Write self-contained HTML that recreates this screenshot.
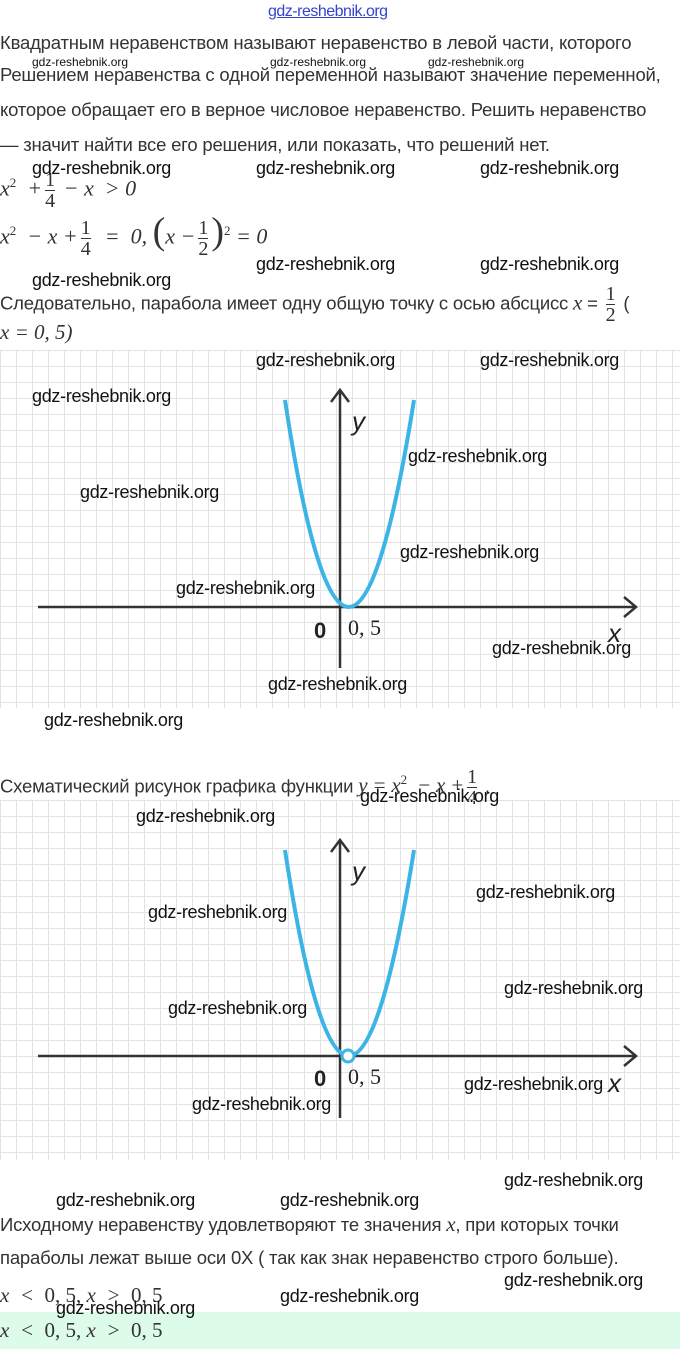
<!DOCTYPE html>
<html><head><meta charset="utf-8"><style>
body{margin:0;width:680px;height:1349px;background:#fff;position:relative;overflow:hidden;font-family:"Liberation Sans","DejaVu Sans",sans-serif;color:#333}
.t{position:absolute;left:0;font-size:18.5px;white-space:nowrap;line-height:22px;letter-spacing:-0.2px}
.m{position:absolute;font-family:"Liberation Serif",serif;font-style:italic;font-size:22px;white-space:nowrap;color:#333;line-height:26px}
.w{position:absolute;font-size:18px;color:#111;white-space:nowrap;line-height:20px;letter-spacing:-0.3px;z-index:5}
.ws{position:absolute;font-size:12px;color:#111;white-space:nowrap;line-height:12px;z-index:5}
.grid{position:absolute;left:0;width:680px;background-image:linear-gradient(#e3e3e3 1px,transparent 1px),linear-gradient(90deg,#e3e3e3 1px,transparent 1px);background-size:16px 16px}
.fr{display:inline-block;vertical-align:middle;text-align:center;font-style:normal;font-size:20px;line-height:20px;margin:0 3px}
.fr span{display:block}
.fr .n{border-bottom:1px solid #333}
</style></head><body>
<div style="position:absolute;left:268px;top:3px;font-size:16px;color:#3344cc;text-decoration:underline;letter-spacing:-0.5px">gdz-reshebnik.org</div>
<div class="t" style="top:32px">Квадратным неравенством называют неравенство в левой части, которого</div>
<div class="t" style="top:64px">Решением неравенства с одной переменной называют значение переменной,</div>
<div class="t" style="top:99px">которое обращает его в верное числовое неравенство. Решить неравенство</div>
<div class="t" style="top:134px">— значит найти все его решения, или показать, что решений нет.</div>
<div class="ws" style="left:32px;top:56px">gdz-reshebnik.org</div>
<div class="ws" style="left:270px;top:56px">gdz-reshebnik.org</div>
<div class="ws" style="left:428px;top:56px">gdz-reshebnik.org</div>

<div class="m" style="left:0;top:170px">x<sup style="font-size:13px;font-style:normal">2</sup> &nbsp;+<span class="fr"><span class="n">1</span><span>4</span></span> − x &nbsp;&gt; 0</div>
<div class="m" style="left:0;top:218px">x<sup style="font-size:13px;font-style:normal">2</sup> &nbsp;− x +<span class="fr"><span class="n">1</span><span>4</span></span> &nbsp;= &nbsp;0, <span style="font-size:38px;font-style:normal">(</span>x −<span class="fr"><span class="n">1</span><span>2</span></span><span style="font-size:38px;font-style:normal">)</span><sup style="font-size:13px;font-style:normal">2</sup> = 0</div>
<div class="t" style="top:284px">Следовательно, парабола имеет одну общую точку с осью абсцисс <span style="font-family:'Liberation Serif',serif;font-style:italic;font-size:21px">x</span> = <span class="fr" style="font-family:'Liberation Serif',serif"><span class="n">1</span><span>2</span></span> (</div>
<div class="m" style="left:0;top:319px;font-size:21px">x = 0, 5)</div>

<div class="grid" style="top:350px;height:358px"></div>
<svg style="position:absolute;left:0;top:350px" width="680" height="358">
<line x1="38" y1="257" x2="636" y2="257" stroke="#333" stroke-width="2.5"/>
<polyline points="624,247 636,257 624,267" fill="none" stroke="#333" stroke-width="2.5"/>
<line x1="340" y1="318" x2="340" y2="40" stroke="#333" stroke-width="2.5"/>
<polyline points="331,52 340,40 349,52" fill="none" stroke="#333" stroke-width="2.5"/>
<path d="M285,50 Q348,464 414,50" fill="none" stroke="#3db4e6" stroke-width="4"/>
<text x="352" y="80" font-family="Liberation Sans" font-style="italic" font-size="26" fill="#222">y</text>
<text x="608" y="292" font-family="Liberation Sans" font-style="italic" font-size="26" fill="#222">x</text>
<text x="314" y="288" font-family="Liberation Sans" font-weight="bold" font-size="22" fill="#222">0</text>
<text x="348" y="285" font-family="Liberation Serif" font-size="22" fill="#222">0, 5</text>
</svg>

<div class="t" style="top:767px">Схематический рисунок графика функции <span style="font-family:'Liberation Serif',serif;font-style:italic;font-size:21px">y = x<sup style="font-size:13px;font-style:normal">2</sup> &nbsp;− x +</span><span class="fr" style="font-family:'Liberation Serif',serif"><span class="n">1</span><span>4</span></span> .</div>

<div class="grid" style="top:800px;height:360px"></div>
<svg style="position:absolute;left:0;top:800px" width="680" height="360">
<line x1="38" y1="256" x2="636" y2="256" stroke="#333" stroke-width="2.5"/>
<polyline points="624,246 636,256 624,266" fill="none" stroke="#333" stroke-width="2.5"/>
<line x1="340" y1="318" x2="340" y2="40" stroke="#333" stroke-width="2.5"/>
<polyline points="331,52 340,40 349,52" fill="none" stroke="#333" stroke-width="2.5"/>
<path d="M285,50 Q348,462 414,50" fill="none" stroke="#3db4e6" stroke-width="4"/>
<circle cx="348" cy="256" r="6" fill="#fff" stroke="#3db4e6" stroke-width="3"/>
<text x="352" y="80" font-family="Liberation Sans" font-style="italic" font-size="26" fill="#222">y</text>
<text x="608" y="292" font-family="Liberation Sans" font-style="italic" font-size="26" fill="#222">x</text>
<text x="314" y="286" font-family="Liberation Sans" font-weight="bold" font-size="22" fill="#222">0</text>
<text x="348" y="284" font-family="Liberation Serif" font-size="22" fill="#222">0, 5</text>
</svg>

<div class="t" style="top:1213px">Исходному неравенству удовлетворяют те значения <span style="font-family:'Liberation Serif',serif;font-style:italic;font-size:21px">x</span>, при которых точки</div>
<div class="t" style="top:1247px">параболы лежат выше оси 0X ( так как знак неравенство строго больше).</div>
<div class="m" style="left:0;top:1282px;font-size:21px">x &nbsp;&lt; &nbsp;<span style="font-style:normal">0, 5,</span> x &nbsp;&gt; &nbsp;<span style="font-style:normal">0, 5</span></div>
<div style="position:absolute;left:0;top:1312px;width:680px;height:37px;background:#dcfbe8"></div>
<div class="m" style="left:0;top:1317px;font-size:21px">x &nbsp;&lt; &nbsp;<span style="font-style:normal">0, 5,</span> x &nbsp;&gt; &nbsp;<span style="font-style:normal">0, 5</span></div>

<div class="w" style="left:32px;top:158px">gdz-reshebnik.org</div>
<div class="w" style="left:256px;top:158px">gdz-reshebnik.org</div>
<div class="w" style="left:480px;top:158px">gdz-reshebnik.org</div>
<div class="w" style="left:256px;top:254px">gdz-reshebnik.org</div>
<div class="w" style="left:480px;top:254px">gdz-reshebnik.org</div>
<div class="w" style="left:32px;top:270px">gdz-reshebnik.org</div>
<div class="w" style="left:256px;top:350px">gdz-reshebnik.org</div>
<div class="w" style="left:480px;top:350px">gdz-reshebnik.org</div>
<div class="w" style="left:32px;top:386px">gdz-reshebnik.org</div>
<div class="w" style="left:408px;top:446px">gdz-reshebnik.org</div>
<div class="w" style="left:80px;top:482px">gdz-reshebnik.org</div>
<div class="w" style="left:400px;top:542px">gdz-reshebnik.org</div>
<div class="w" style="left:176px;top:578px">gdz-reshebnik.org</div>
<div class="w" style="left:492px;top:638px">gdz-reshebnik.org</div>
<div class="w" style="left:268px;top:674px">gdz-reshebnik.org</div>
<div class="w" style="left:44px;top:710px">gdz-reshebnik.org</div>
<div class="w" style="left:360px;top:786px">gdz-reshebnik.org</div>
<div class="w" style="left:136px;top:806px">gdz-reshebnik.org</div>
<div class="w" style="left:476px;top:882px">gdz-reshebnik.org</div>
<div class="w" style="left:148px;top:902px">gdz-reshebnik.org</div>
<div class="w" style="left:504px;top:978px">gdz-reshebnik.org</div>
<div class="w" style="left:168px;top:998px">gdz-reshebnik.org</div>
<div class="w" style="left:464px;top:1074px">gdz-reshebnik.org</div>
<div class="w" style="left:192px;top:1094px">gdz-reshebnik.org</div>
<div class="w" style="left:504px;top:1170px">gdz-reshebnik.org</div>
<div class="w" style="left:56px;top:1190px">gdz-reshebnik.org</div>
<div class="w" style="left:280px;top:1190px">gdz-reshebnik.org</div>
<div class="w" style="left:504px;top:1270px">gdz-reshebnik.org</div>
<div class="w" style="left:280px;top:1286px">gdz-reshebnik.org</div>
<div class="w" style="left:56px;top:1298px">gdz-reshebnik.org</div>
</body></html>
